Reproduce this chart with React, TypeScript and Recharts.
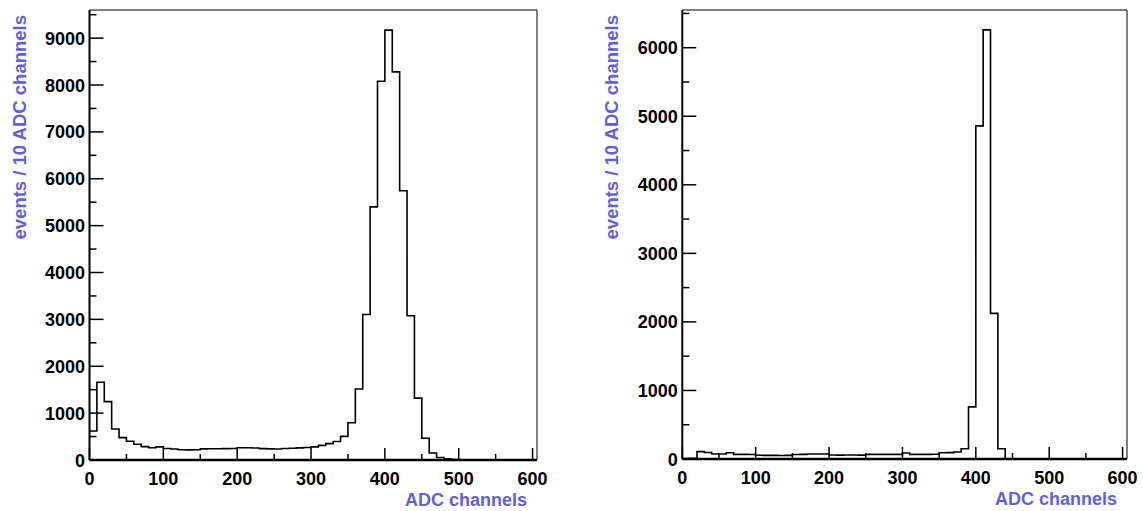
import React from 'react';
import { LineChart, Line, XAxis, YAxis, ReferenceLine, Label } from 'recharts';

// bin contents, 10 ADC channels per bin, 0..600
const BIN_WIDTH = 10;

const leftCounts = [
  620, 1660, 1245, 660, 478, 400, 335, 285, 262, 280,
  245, 235, 218, 215, 220, 238, 240, 240, 242, 245,
  262, 260, 255, 242, 238, 236, 245, 250, 258, 268,
  280, 312, 350, 395, 505, 795, 1515, 3105, 5400, 8080,
  9170, 8280, 5745, 3078, 1320, 465, 148, 52, 28, 12,
  6, 3, 2, 1, 1, 0, 0, 0, 0, 0,
];

const rightCounts = [
  8, 10, 107, 95, 73, 73, 92, 68, 68, 66,
  55, 53, 53, 52, 53, 66, 68, 73, 72, 73,
  58, 57, 58, 58, 57, 68, 67, 68, 68, 67,
  87, 68, 67, 68, 70, 92, 93, 102, 150, 760,
  4860, 6260, 2125, 150, 0, 0, 0, 0, 0, 0,
  0, 0, 0, 0, 0, 0, 0, 0, 0, 0,
];

const xTicks = [0, 50, 100, 150, 200, 250, 300, 350, 400, 450, 500, 550, 600];
const leftYTicks = [0, 500, 1000, 1500, 2000, 2500, 3000, 3500, 4000, 4500, 5000, 5500, 6000, 6500, 7000, 7500, 8000, 8500, 9000, 9500];
const rightYTicks = [0, 500, 1000, 1500, 2000, 2500, 3000, 3500, 4000, 4500, 5000, 5500, 6000, 6500];

const xTitle = 'ADC channels';
const yTitle = 'events / 10 ADC channels';

const X_MAX = 606;
const FONT = '"Liberation Sans", Arial, Helvetica, sans-serif';
const TITLE_COLOR = '#5f5fe0';

const toBins = (counts: number[]) =>
  counts
    .map((c, i) => ({ x: i * BIN_WIDTH, count: c }))
    .concat([{ x: counts.length * BIN_WIDTH, count: counts[counts.length - 1] }]);

const XTick = (props: any) => {
  const { x, y, payload } = props;
  const major = payload.value % 100 === 0;
  return (
    <g>
      <line x1={x} x2={x} y1={y} y2={y - (major ? 12 : 6)} stroke="#000" strokeWidth={1.5} />
      {major && (
        <text x={x} y={y + 25} textAnchor="middle" fontFamily={FONT} fontWeight="bold" fontSize={18} fill="#000">
          {payload.value}
        </text>
      )}
    </g>
  );
};

const YTick = (props: any) => {
  const { x, y, payload } = props;
  const major = payload.value % 1000 === 0;
  return (
    <g>
      <line x1={x} x2={x + (major ? 14 : 7)} y1={y} y2={y} stroke="#000" strokeWidth={1.5} />
      {major && (
        <text x={x - 4.5} y={y + 6.5} textAnchor="end" fontFamily={FONT} fontWeight="bold" fontSize={18} fill="#000">
          {payload.value}
        </text>
      )}
    </g>
  );
};

interface PanelProps {
  left: number;
  width: number;
  plotLeft: number;
  plotRight: number;
  plotBottom: number;
  counts: number[];
  yMax: number;
  yTicks: number[];
}

const Panel: React.FC<PanelProps> = ({ left, width, plotLeft, plotRight, plotBottom, counts, yMax, yTicks }) => {
  const data = toBins(counts);
  const axisW = plotLeft - left;
  const rightM = width - (plotRight - left);

  return (
    <div style={{ position: 'absolute', left, top: 0 }}>
      <LineChart width={width} height={511} data={data} margin={{ top: 10, right: rightM, bottom: 0, left: 0 }}>
        <XAxis
          type="number"
          dataKey="x"
          domain={[0, X_MAX]}
          ticks={xTicks}
          interval={0}
          allowDataOverflow
          tickSize={0}
          tickMargin={0}
          tickLine={false}
          axisLine={{ stroke: '#000', strokeWidth: 2.5 }}
          height={511 - plotBottom}
          tick={<XTick />}
        >
          <Label
            content={() => (
              <text x={plotRight - left - 10} y={plotBottom + 46} textAnchor="end" fontFamily={FONT} fontWeight="bold" fontSize={18} fill={TITLE_COLOR}>
                {xTitle}
              </text>
            )}
          />
        </XAxis>
        <YAxis
          type="number"
          domain={[0, yMax]}
          ticks={yTicks}
          interval={0}
          allowDataOverflow
          tickSize={0}
          tickMargin={0}
          tickLine={false}
          axisLine={{ stroke: '#000', strokeWidth: 2 }}
          width={axisW}
          tick={<YTick />}
        >
          <Label
            content={() => (
              <text
                x={axisW - 64}
                y={15}
                transform={`rotate(-90, ${axisW - 64}, 15)`}
                textAnchor="end"
                fontFamily={FONT}
                fontWeight="bold"
                fontSize={18.5}
                fill={TITLE_COLOR}
              >
                {yTitle}
              </text>
            )}
          />
        </YAxis>
        <ReferenceLine y={yMax} stroke="#000" strokeWidth={1} />
        <ReferenceLine x={X_MAX} stroke="#000" strokeWidth={1} />
        <Line type="stepAfter" dataKey="count" stroke="#000" strokeWidth={1.6} dot={false} isAnimationActive={false} />
      </LineChart>
    </div>
  );
};

export default function App() {
  return (
    <div style={{ position: 'absolute', left: 0, top: 0, width: 1143, height: 511, background: '#fff' }}>
      <Panel left={0} width={572} plotLeft={89.5} plotRight={537} plotBottom={460} counts={leftCounts} yMax={9600} yTicks={leftYTicks} />
      <Panel left={572} width={571} plotLeft={682.3} plotRight={1127} plotBottom={459} counts={rightCounts} yMax={6550} yTicks={rightYTicks} />
    </div>
  );
}
